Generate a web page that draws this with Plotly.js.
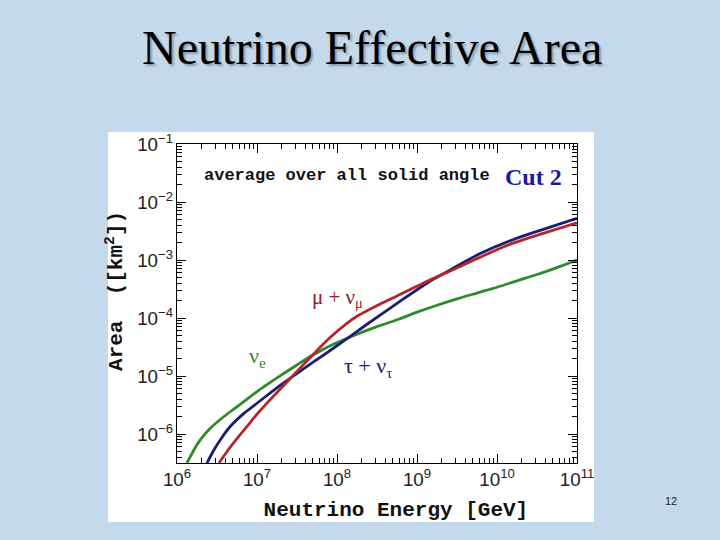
<!DOCTYPE html>
<html>
<head>
<meta charset="utf-8">
<script src="https://cdn.plot.ly/plotly-3.0.1.min.js"></script>
<style>
html,body{margin:0;padding:0;background:#c4d9eb;}
#chart{width:720px;height:540px;}
</style>
</head>
<body>
<div id="chart"></div>
<script>
// Neutrino energy [GeV] and effective area [km^2]
const eE = [1.33e6, 1.62e6, 1.95e6, 2.57e6, 3.47e6, 5.13e6, 7.5e6, 1e7, 1.78e7, 3.16e7, 5.13e7, 9.12e7, 1.78e8, 3.16e8, 5.89e8, 1e9, 1.78e9, 3.16e9, 5.62e9, 1e10, 1.78e10, 3.16e10, 5.62e10, 1e11];
const eA = [3.16e-7, 5.25e-7, 7.9e-7, 1.23e-6, 1.78e-6, 2.69e-6, 3.98e-6, 5.4e-6, 9.3e-6, 1.55e-5, 2.34e-5, 3.55e-5, 5.25e-5, 7.1e-5, 9.5e-5, 1.26e-4, 1.66e-4, 2.14e-4, 2.69e-4, 3.39e-4, 4.37e-4, 5.62e-4, 7.4e-4, 1.0e-3];

const tauE = [2.37e6, 2.88e6, 3.47e6, 4.57e6, 6.92e6, 1e7, 1.95e7, 3.89e7, 6.92e7, 1.23e8, 2.37e8, 6.17e8, 1.33e9, 2.82e9, 6.17e9, 1.58e10, 4.22e10, 1e11];
const tauA = [3.16e-7, 5.25e-7, 7.9e-7, 1.32e-6, 2.29e-6, 3.39e-6, 6.9e-6, 1.35e-5, 2.34e-5, 4.07e-5, 7.8e-5, 1.95e-4, 3.98e-4, 7.2e-4, 1.29e-3, 2.24e-3, 3.55e-3, 5.25e-3];

const muE = [3.35e6, 4.22e6, 5.62e6, 7.5e6, 1e7, 1.41e7, 2.37e7, 3.89e7, 5.62e7, 8.13e7, 1.33e8, 1.78e8, 3.47e8, 5.62e8, 1.19e9, 2.82e9, 6.17e9, 1.58e10, 4.22e10, 1e11];
const muA = [3.16e-7, 5.0e-7, 8.3e-7, 1.35e-6, 2.19e-6, 3.72e-6, 7.9e-6, 1.62e-5, 2.75e-5, 4.57e-5, 8.1e-5, 1.07e-4, 1.74e-4, 2.4e-4, 3.98e-4, 6.8e-4, 1.12e-3, 1.95e-3, 3.02e-3, 4.37e-3];

const seriesNames = ["ν<sub>e</sub>", "τ + ν<sub>τ</sub>", "μ + ν<sub>μ</sub>"];

const C_GREEN = "#2f8a2c", C_BLUE = "#1c1c70", C_RED = "#b3262b";

const lineOf = c => ({color: c, width: 2.8, shape: "spline", smoothing: 0.8});
const traces = [
  {x: eE, y: eA, name: seriesNames[0], mode: "lines", line: lineOf(C_GREEN)},
  {x: tauE, y: tauA, name: seriesNames[1], mode: "lines", line: lineOf(C_BLUE)},
  {x: muE, y: muA, name: seriesNames[2], mode: "lines", line: lineOf(C_RED)}
];

const tickFont = {family: "Liberation Sans, Arial, sans-serif", size: 15, color: "#222"};
const monoFont = {family: "Liberation Mono, Courier New, monospace", color: "#111"};
const serif = "Liberation Serif, Times New Roman, serif";
const NB = "\u00a0";

function ann(x, y, text, font) {
  return {xref: "paper", yref: "paper", x: x, y: y, xanchor: "center", yanchor: "middle",
          showarrow: false, text: text, font: font};
}
const px = p => (p - 177) / 400;
const py = p => (463 - p) / 319;

const layout = {
  width: 720, height: 540,
  paper_bgcolor: "#c4d9eb",
  plot_bgcolor: "#ffffff",
  showlegend: false,
  margin: {l: 177, r: 143, t: 144, b: 77},
  title: {
    text: "Neutrino Effective Area",
    font: {family: serif, size: 48, color: "#000", shadow: "2px 2px 2px #8a9aa8"},
    xref: "container", yref: "container", x: 0.517, y: 0.912, xanchor: "center", yanchor: "middle"
  },
  xaxis: {
    type: "log", range: [6, 11], tickmode: "linear", tick0: 0, dtick: 1,
    exponentformat: "power", ticks: "inside", ticklen: 9, tickwidth: 1, tickcolor: "#000",
    minor: {ticks: "inside", ticklen: 5, tickcolor: "#000", dtick: "D1", showgrid: false},
    showline: true, linecolor: "#000", linewidth: 1, mirror: "ticks", showgrid: false, zeroline: false,
    tickfont: tickFont,
    title: {text: "<b>" + NB + NB + NB + "Neutrino Energy [GeV]</b>", font: Object.assign({size: 21}, monoFont), standoff: 12}
  },
  yaxis: {
    type: "log", range: [-6.5, -1], tickmode: "linear", tick0: 0, dtick: 1,
    exponentformat: "power", ticks: "inside", ticklen: 9, tickwidth: 1, tickcolor: "#000",
    minor: {ticks: "inside", ticklen: 5, tickcolor: "#000", dtick: "D1", showgrid: false},
    showline: true, linecolor: "#000", linewidth: 1, mirror: "ticks", showgrid: false, zeroline: false,
    tickfont: tickFont,
    title: {text: "<b>" + NB + NB + "Area" + NB + NB + "([km<sup>2</sup>])</b>", font: Object.assign({size: 21}, monoFont), standoff: 8}
  },
  shapes: [
    {type: "rect", xref: "paper", yref: "paper", x0: px(108), x1: px(594), y0: py(522), y1: py(132),
     fillcolor: "#ffffff", line: {width: 0}, layer: "below"}
  ],
  annotations: [
    ann(px(346.5), py(175), "<b>average over all solid angle</b>", Object.assign({size: 17}, monoFont)),
    ann(px(533), py(177), "<b>Cut 2</b>", {family: serif, size: 24, color: "#1a1aa0"}),
    ann(px(337), py(298), seriesNames[2], {family: serif, size: 21, color: "#8e1b22"}),
    ann(px(257), py(357), seriesNames[0], {family: serif, size: 22, color: C_GREEN}),
    ann(px(368), py(367), seriesNames[1], {family: serif, size: 22, color: C_BLUE}),
    ann(px(671), py(501), "12", {family: "Liberation Sans, Arial, sans-serif", size: 11, color: "#222"})
  ]
};

Plotly.newPlot("chart", traces, layout, {displayModeBar: false, staticPlot: true});
</script>
</body>
</html>
